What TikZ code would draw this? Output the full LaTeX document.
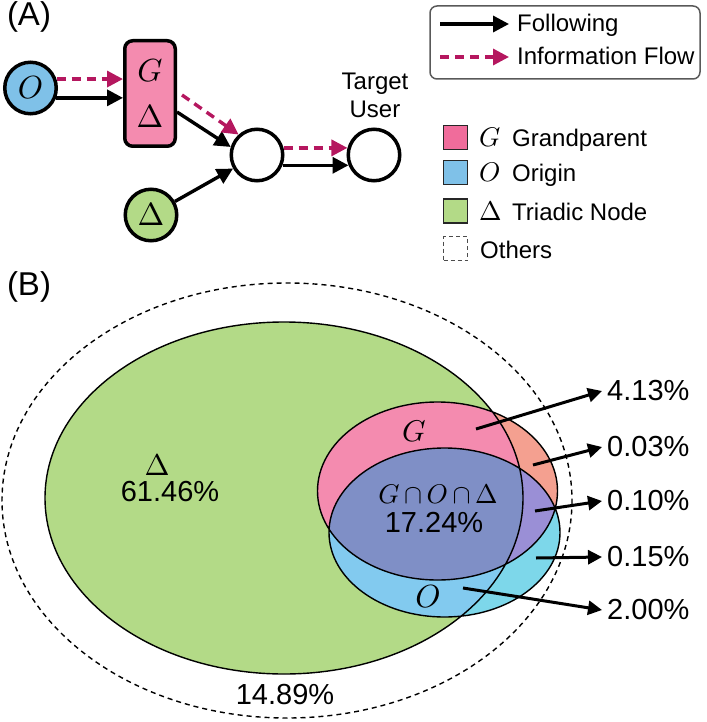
\documentclass[tikz,border=0pt]{standalone}
\usepackage[no-math]{fontspec}
\setmainfont{Liberation Sans}
\usetikzlibrary{arrows.meta,positioning}
% scalable math fonts for the large letters
\DeclareFontShape{OML}{cmm}{m}{it}{<->cmmi10}{}
\DeclareFontShape{OT1}{cmr}{m}{n}{<->cmr10}{}
\DeclareFontShape{OMS}{cmsy}{m}{n}{<->cmsy10}{}

\definecolor{gpink}{HTML}{F48BAF}
\definecolor{gleg}{HTML}{F06C9B}
\definecolor{oblue}{HTML}{7FC1E8}
\definecolor{tgreen}{HTML}{B3DA87}
\definecolor{flowred}{HTML}{B5175F}
\definecolor{vsalmon}{HTML}{F4A090}
\definecolor{vcore}{HTML}{7F8FC6}
\definecolor{vlav}{HTML}{9A8FD6}
\definecolor{vlblue}{HTML}{82CAEF}
\definecolor{vcyan}{HTML}{7DD7EA}

\tikzset{
  user/.style={circle,draw,line width=3.5pt,minimum size=51.5pt,inner sep=0pt,
    font=\fontsize{32}{36}\selectfont},
  gbox/.style={draw,fill=gpink,line width=3.5pt,rounded corners=8pt,
    minimum width=50.5pt,minimum height=105.5pt,inner sep=0pt,align=center,
    font=\fontsize{32}{46}\selectfont},
  follow/.style={line width=3.4pt,-{Triangle[length=16pt,width=16pt]}},
  flow/.style={follow,flowred,dash pattern=on 9pt off 6pt},
  panel/.style={font=\fontsize{33}{36}\selectfont},
  legtxt/.style={inner sep=0pt,font=\fontsize{24}{28}\selectfont},
  legsq/.style={draw=black!85,line width=1.5pt,minimum size=24pt,inner sep=0pt},
  pct/.style={inner sep=5pt,font=\fontsize{29}{32}\selectfont},
  vmath/.style={inner sep=0pt,font=\fontsize{30}{32}\selectfont},
  vline/.style={line width=1.4pt},
  othersline/.style={line width=1.4pt,dash pattern=on 5pt off 4pt},
  pointer/.style={line width=3pt,-{Triangle[length=14pt,width=14pt]}}
}

\begin{document}
\begin{tikzpicture}[x=1pt,y=-1pt]
\useasboundingbox (0,0) rectangle (706,722);

% (A) cascade
\node[panel] (pa) at (29,17) {(A)};
\node[user,fill=oblue] (O) at (30.5,88) {$O$};
\node[gbox] (G) at (150,93.5) {$G$\\$\Delta$};
\node[user] (mid) at (257,155) {};
\node[user] (tgt) at (374,155) {};
\node[user,fill=tgreen] (tri) at (151,215) {$\Delta$};
\node[legtxt,align=center,font=\fontsize{24}{28}\selectfont] (tlab) at (375,95) {Target\\User};

\draw[follow] (O.-21) -- (O.-21 -| G.west);
\draw[flow] (O.19) -- (O.19 -| G.west);
\draw[follow] ([yshift=-18.5pt]G.east) -- (mid.163);
\draw[flow] ([xshift=5pt,yshift=-1.5pt]G.east) -- (mid.132);
\draw[follow] (tri) -- (mid);
\draw[follow] (mid.-22) -- (tgt.202);
\draw[flow] (mid.15) -- (tgt.165);

% legend
\draw[draw=black!65,line width=1.5pt,rounded corners=7pt] (430,6) rectangle (700,79);
\coordinate (fol) at (440,24);
\coordinate (inf) at (440,57);
\node[legtxt,anchor=base west] (foltxt) at (517,32) {Following};
\node[legtxt,anchor=base west] (inftxt) at (517,65) {Information Flow};
\draw[follow] (fol) -- ([xshift=-8pt]fol -| foltxt.west);
\draw[flow] (inf) -- ([xshift=-8pt]inf -| inftxt.west);

\foreach \y/\c/\m/\t/\n in {137.5/gleg/G/Grandparent/lg,172.5/oblue/O/Origin/lo,210.8/tgreen/\Delta/Triadic Node/lt}{
  \node[legsq,fill=\c] (\n) at (455.5,\y) {};
  \node[legtxt,anchor=base west] at (479,\y+9.5) {\makebox[33pt][l]{\fontsize{27}{30}\selectfont$\m$}\t};
}
\node[legsq,draw=black!70,dash pattern=on 4pt off 3pt] (lx) at (455.5,248.5) {};
\node[legtxt,anchor=base west] at (480,258) {Others};

% (B) venn
\node[panel] (pb) at (29,287) {(B)};
\def\outerarea{(287,500.5) ellipse [x radius=285, y radius=217.5]}
\def\triarea{(284,498) ellipse [x radius=239, y radius=176]}
\def\garea{(437.5,491) ellipse [x radius=120, y radius=89]}
\def\oarea{(444.5,532.5) ellipse [x radius=115.5, y radius=84.5]}

\fill[tgreen] \triarea;
\fill[vsalmon] \garea;
\fill[vcyan] \oarea;
\begin{scope}
  \clip \triarea;
  \fill[gpink] \garea;
  \fill[vlblue] \oarea;
\end{scope}
\begin{scope}
  \clip \garea;
  \fill[vlav] \oarea;
  \clip \triarea;
  \fill[vcore] \oarea;
\end{scope}
\draw[vline] \triarea \garea \oarea;
\draw[othersline] \outerarea;

\node[vmath] (dl) at (157,465) {$\Delta$};
\node[pct,inner sep=0pt] (dp) at (170,492) {61.46\%};
\node[pct,inner sep=0pt] (xp) at (285,695) {14.89\%};
\node[vmath] (gl) at (414,431) {$G$};
\node[vmath,font=\fontsize{27}{30}\selectfont] (cl) at (438,494) {$G\,{\cap}\,O\,{\cap}\,\Delta$};
\node[pct,inner sep=0pt] (cp) at (434,522) {17.24\%};
\node[vmath,font=\fontsize{32}{34}\selectfont] (ol) at (428,597) {$O$};

\coordinate (c413) at (476,429);
\coordinate (c003) at (533,465);
\coordinate (c010) at (535,511);
\coordinate (c015) at (536,558);
\coordinate (c200) at (463,588);
\node[pct,anchor=west] (l413) at (602,391) {4.13\%};
\node[pct,anchor=west] (l003) at (602,447) {0.03\%};
\node[pct,anchor=west] (l010) at (602,501) {0.10\%};
\node[pct,anchor=west] (l015) at (602,557) {0.15\%};
\node[pct,anchor=west] (l200) at (602,610) {2.00\%};
\draw[pointer] (c413) -- (l413.west);
\draw[pointer] (c003) -- (l003.west);
\draw[pointer] (c010) -- (l010.west);
\draw[pointer] (c015) -- (l015.west);
\draw[pointer] (c200) -- (l200.west);
\end{tikzpicture}
\end{document}
